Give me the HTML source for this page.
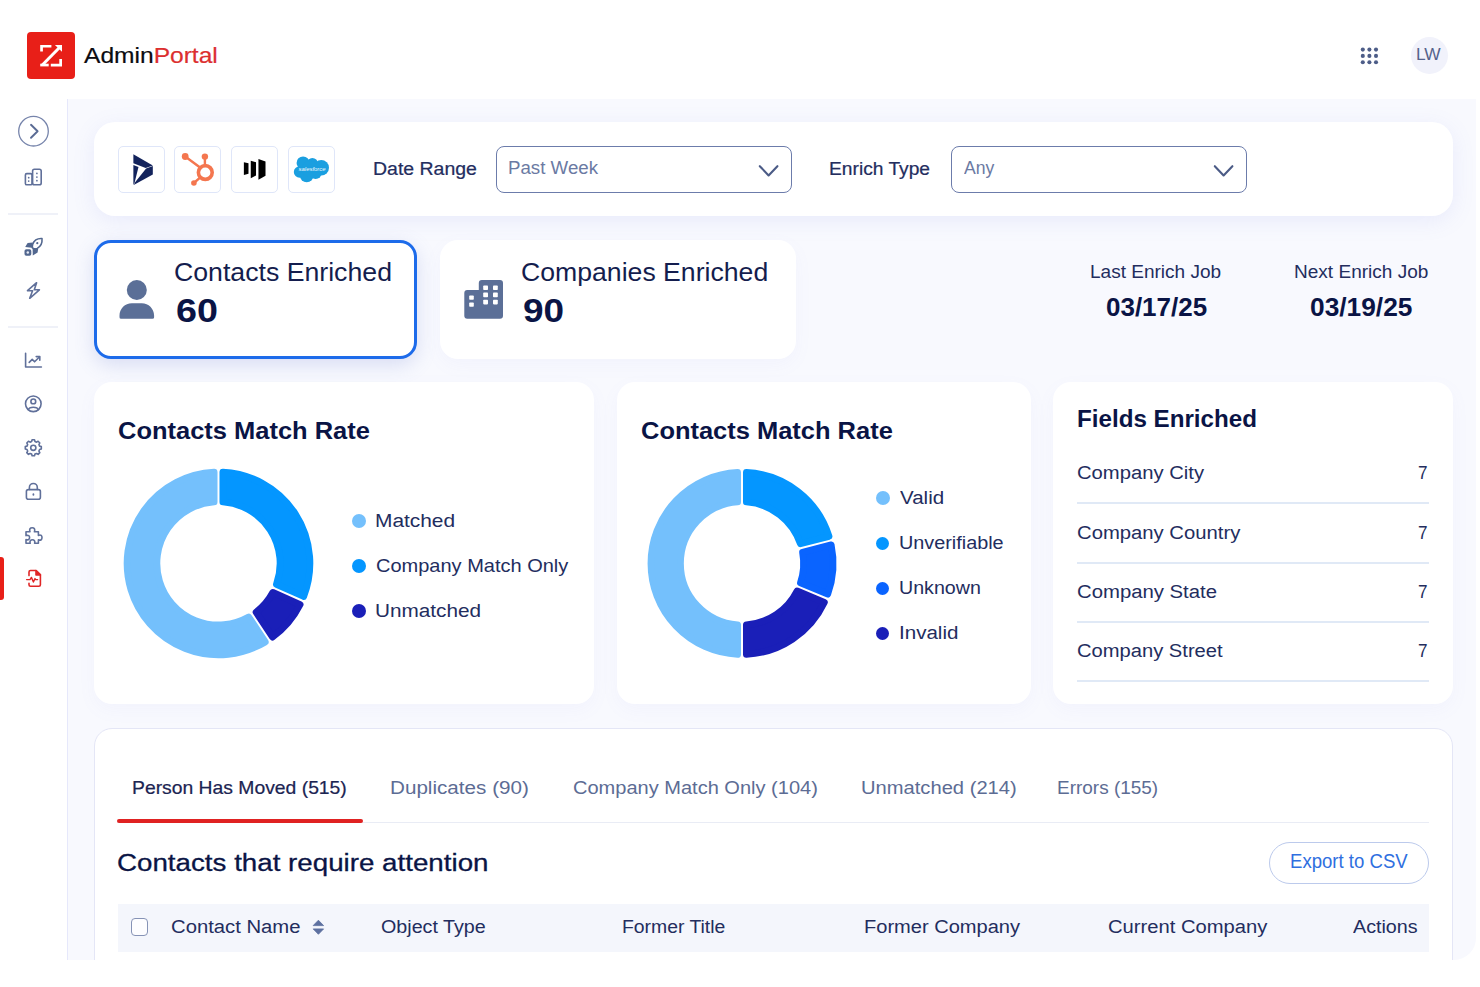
<!DOCTYPE html>
<html>
<head>
<meta charset="utf-8">
<title>AdminPortal</title>
<style>
*{box-sizing:border-box;margin:0;padding:0}
html,body{width:1480px;height:987px;overflow:hidden;background:#fff}
body{font-family:"Liberation Sans",sans-serif;color:#101a4b;position:relative}
.abs{position:absolute}
.t{position:absolute;white-space:nowrap;line-height:1;transform-origin:0 0}
.m{-webkit-text-stroke:0.22px currentColor}
#cra{-webkit-text-stroke:0.3px currentColor}
#t1{-webkit-text-stroke:0.22px currentColor}
#brand{-webkit-text-stroke:0.2px currentColor}
#brand span{-webkit-text-stroke:0.2px #dc2f2f}
.b{font-weight:bold}
#content{left:67px;top:99px;width:1409px;height:861px;background:#f8f9fe;border-left:1.5px solid #e6e8fb;border-bottom-right-radius:22px}
.card{position:absolute;background:#fff;border-radius:18px;box-shadow:0 6px 18px rgba(130,145,230,.05)}
#logo{left:27.3px;top:32.2px;width:47.4px;height:47.1px;background:#e81f18;border-radius:4px}
.sep{position:absolute;left:8px;width:50px;height:1.5px;background:#eff1f8}
.ibox{position:absolute;top:146px;width:47px;height:47px;background:#fff;border:1px solid #dfe6f9;border-radius:5px}
.sel{position:absolute;top:146px;height:47px;background:#fff;border:1.6px solid #6c7cab;border-radius:8px}
.dot{position:absolute;border-radius:50%}
.hl{position:absolute;left:1077px;width:352px;height:2px;background:#e0e9f6}
svg{position:absolute;overflow:visible}
</style>
</head>
<body>
<!-- HEADER -->
<div id="logo" class="abs"></div>
<div class="abs" style="left:1411px;top:37.3px;width:37px;height:37px;border-radius:50%;background:#f1f2fb"></div>

<!-- CONTENT BG -->
<div id="content" class="abs"></div>

<!-- SIDEBAR -->
<div class="sep" style="top:213px"></div>
<div class="sep" style="top:326px"></div>
<div class="abs" style="left:0;top:557px;width:3.5px;height:43px;background:#e81f18;border-radius:0 3px 3px 0"></div>

<!-- FILTER CARD -->
<div class="card" style="left:93.8px;top:122px;width:1359.4px;height:94.2px;border-radius:21px;box-shadow:0 5px 22px rgba(120,130,230,.12)"></div>
<div class="ibox" style="left:117.6px"></div>
<div class="ibox" style="left:174.2px"></div>
<div class="ibox" style="left:231.2px"></div>
<div class="ibox" style="left:288px"></div>
<div class="sel" style="left:496px;width:296px"></div>
<div class="sel" style="left:951px;width:296px"></div>

<!-- STAT CARDS -->
<div class="card" style="left:94px;top:240px;width:323px;height:119px;border:3px solid #1d6bea;border-radius:17px;box-shadow:0 6px 20px rgba(90,110,200,.20)"></div>
<div class="card" style="left:440px;top:240px;width:355.5px;height:118.8px;border-radius:18px"></div>

<!-- CHART CARDS -->
<div class="card" style="left:93.8px;top:381.7px;width:500.3px;height:322.5px"></div>
<div class="card" style="left:617.2px;top:381.7px;width:413.5px;height:322.5px"></div>
<div class="card" style="left:1052.6px;top:381.7px;width:400.6px;height:322.5px"></div>

<!-- legend dots -->
<div class="dot" style="left:352px;top:514px;width:14.4px;height:14.4px;background:#74c0fc"></div>
<div class="dot" style="left:352px;top:558.6px;width:14.4px;height:14.4px;background:#0496ff"></div>
<div class="dot" style="left:352px;top:603.8px;width:14.4px;height:14.4px;background:#1a1fb8"></div>
<div class="dot" style="left:875.5px;top:491.2px;width:14px;height:14px;background:#74c0fc"></div>
<div class="dot" style="left:876px;top:537px;width:13px;height:13px;background:#0496ff"></div>
<div class="dot" style="left:876px;top:582px;width:13px;height:13px;background:#0a64ff"></div>
<div class="dot" style="left:876px;top:627px;width:13px;height:13px;background:#1a1fb8"></div>

<!-- fields lines -->
<div class="hl" style="top:502.2px"></div>
<div class="hl" style="top:561.5px"></div>
<div class="hl" style="top:620.7px"></div>
<div class="hl" style="top:679.7px"></div>

<!-- TABLE CARD -->
<div class="abs" style="left:94px;top:728px;width:1358.6px;height:260px;background:#fff;border:1px solid #e4e6f6;border-radius:18px"></div>
<div class="abs" style="left:117px;top:821.5px;width:1312px;height:1.5px;background:#e9ecf5"></div>
<div class="abs" style="left:117.4px;top:818.8px;width:246px;height:3.8px;background:#e02222;border-radius:2px"></div>
<div class="abs" style="left:1269px;top:842px;width:160px;height:42px;border:1.5px solid #bccaec;border-radius:21px;background:#fff"></div>
<div class="abs" style="left:117.5px;top:904px;width:1311.5px;height:47.5px;background:#f4f6fc"></div>
<div class="abs" style="left:130.5px;top:918.3px;width:17.8px;height:17.8px;border:1.6px solid #8693b6;border-radius:4px;background:#fdfdff"></div>
<!-- DONUTS -->
<svg style="left:0;top:0" width="1480" height="987" viewBox="0 0 1480 987">
<path d="M222.90,472.11A91.40,91.40 0 0 1 303.69,596.51L276.42,584.37A61.60,61.60 0 0 0 222.90,501.96Z" fill="#0496ff" stroke="#0496ff" stroke-width="6.8" stroke-linejoin="round"/>
<path d="M300.11,604.55A91.40,91.40 0 0 1 272.56,637.10L256.08,612.21A61.60,61.60 0 0 0 272.84,592.41Z" fill="#1a1fb8" stroke="#1a1fb8" stroke-width="6.8" stroke-linejoin="round"/>
<path d="M265.22,641.96A91.40,91.40 0 1 1 214.10,472.11L214.10,501.96A61.60,61.60 0 1 0 248.74,617.06Z" fill="#74c0fc" stroke="#74c0fc" stroke-width="6.8" stroke-linejoin="round"/>
<path d="M746.40,472.41A91.10,91.10 0 0 1 828.99,536.36L800.38,543.76A61.60,61.60 0 0 0 746.40,501.96Z" fill="#0496ff" stroke="#0496ff" stroke-width="6.8" stroke-linejoin="round"/>
<path d="M831.20,544.88A91.10,91.10 0 0 1 827.75,594.16L800.45,582.85A61.60,61.60 0 0 0 802.59,552.28Z" fill="#0a64ff" stroke="#0a64ff" stroke-width="6.8" stroke-linejoin="round"/>
<path d="M824.38,602.29A91.10,91.10 0 0 1 746.40,654.39L746.40,624.84A61.60,61.60 0 0 0 797.08,590.98Z" fill="#1a1fb8" stroke="#1a1fb8" stroke-width="6.8" stroke-linejoin="round"/>
<path d="M737.60,654.39A91.10,91.10 0 0 1 737.60,472.41L737.60,501.96A61.60,61.60 0 0 0 737.60,624.84Z" fill="#74c0fc" stroke="#74c0fc" stroke-width="6.8" stroke-linejoin="round"/>
</svg>
<!-- ICONS -->
<svg style="left:0;top:0" width="1480" height="987" viewBox="0 0 1480 987" fill="none">
<!-- logo Z -->
<g fill="#fff">
<path d="M40.2,44.9H51.4V47.6H42.9V51.4H40.2Z"/>
<path d="M54.9,44.9H62V51.8Z"/>
<path d="M59.4,45.4L61.6,47.6L43.6,65.8L40.8,64.4Z"/>
<path d="M40.2,63.7H48.7V66.4H40.2Z"/>
<path d="M50.8,63.7H59.3V59H62V66.4H50.8Z"/>
</g>
<!-- app grid -->
<g fill="#4d5d88">
<circle cx="1362.8" cy="49.6" r="2.05"/><circle cx="1369.4" cy="49.6" r="2.05"/><circle cx="1376" cy="49.6" r="2.05"/>
<circle cx="1362.8" cy="55.9" r="2.05"/><circle cx="1369.4" cy="55.9" r="2.05"/><circle cx="1376" cy="55.9" r="2.05"/>
<circle cx="1362.8" cy="62.2" r="2.05"/><circle cx="1369.4" cy="62.2" r="2.05"/><circle cx="1376" cy="62.2" r="2.05"/>
</g>
<!-- select chevrons -->
<g stroke="#4b5b86" stroke-width="2.1" stroke-linecap="round" stroke-linejoin="round">
<path d="M759.8,166.2L768.6,175.4L777.4,166.2"/>
<path d="M1214.8,166.2L1223.6,175.4L1232.4,166.2"/>
</g>
<!-- sidebar expand -->
<circle cx="33.5" cy="131.2" r="14.8" stroke="#7684ab" stroke-width="1.3"/>
<path d="M31,124.8L37.6,131.3L31,137.8" stroke="#5a6b94" stroke-width="1.9" stroke-linecap="round" stroke-linejoin="round"/>
<!-- sidebar icons -->
<g stroke="#60709a" stroke-width="1.6" stroke-linecap="round" stroke-linejoin="round">
<!-- buildings -->
<rect x="25.4" y="173.6" width="6.6" height="11.2" rx="1.4"/>
<rect x="32.6" y="169.2" width="8.6" height="15.6" rx="1.8"/>
<path d="M36.9,173.4v.1M36.9,177v.1M36.9,180.6v.1M28.7,177.6v.1M28.7,181v.1" stroke-width="1.7"/>
<!-- lightning -->
<path d="M36.6,282.7L27.5,290.7H32.6L29.7,298.3L39.4,289.8H34.3Z"/>
<!-- chart -->
<path d="M25.6,353.2V367H41.4"/>
<path d="M29.2,362.4L32.2,359.4L34.6,361.8L39.4,357"/>
<path d="M36.2,356.6H39.8V360.2"/>
<!-- user circle -->
<circle cx="33.3" cy="403.8" r="7.8"/>
<circle cx="33.3" cy="401.4" r="2.4"/>
<path d="M28.4,409.6C29.2,406.4 37.4,406.4 38.2,409.6"/>
<!-- lock -->
<rect x="26.4" y="489.6" width="14" height="9.7" rx="2"/>
<path d="M29.4,489.4V487.4A3.95,3.95 0 0 1 37.3,487.4V489.4"/>
<path d="M33.4,494.2v.6" stroke-width="1.8"/>
</g>
<!-- gear -->
<g stroke="#60709a" stroke-width="1.6" stroke-linecap="round" stroke-linejoin="round">
<path d="M31.62,441.52L32.10,439.79L34.50,439.79L34.98,441.52L36.55,442.17L38.12,441.29L39.81,442.98L38.93,444.55L39.58,446.12L41.31,446.60L41.31,449.00L39.58,449.48L38.93,451.05L39.81,452.62L38.12,454.31L36.55,453.43L34.98,454.08L34.50,455.81L32.10,455.81L31.62,454.08L30.05,453.43L28.48,454.31L26.79,452.62L27.67,451.05L27.02,449.48L25.29,449.00L25.29,446.60L27.02,446.12L27.67,444.55L26.79,442.98L28.48,441.29L30.05,442.17Z"/>
<circle cx="33.3" cy="447.8" r="2.6"/>
<!-- puzzle -->
<path d="M26,531.8H30C29,529 30.2,527.7 32.2,527.7C34.2,527.7 35.4,529 34.4,531.8H38.4V535.4C41,534.4 42,535.8 42,537.6C42,539.4 41,540.8 38.4,539.8V543.3H34.6C35.4,541 34.2,539.8 32.4,539.8C30.6,539.8 29.4,541 30.2,543.3H26V539.6C28.4,540.4 29.6,539.2 29.6,537.6C29.6,536 28.4,534.8 26,535.6Z"/>
</g>
<!-- rocket -->
<path d="M42,238.6C37.6,238.3 34.2,240.2 32.6,244.4L32.2,247.6L34.6,249.4L37.2,248.4C40.8,246.4 42.4,243 42,238.6Z" fill="#fff" stroke="#52678f" stroke-width="1.6" stroke-linejoin="round"/>
<g fill="#52678f">
<path d="M32.8,242.6L27.6,243L25.2,247L31.8,247.8Z"/>
<path d="M32.6,247.8L38.2,248.4L37.6,252.6L32.8,255.6Z"/>
<path d="M26.4,249.2H29.6A1.7,1.7 0 0 1 31.3,250.9V254.1A1.7,1.7 0 0 1 29.6,255.8H26.2A1.7,1.7 0 0 1 24.5,254.1V251.1A1.9,1.9 0 0 1 26.4,249.2Z"/>
<circle cx="37.3" cy="243.2" r="1.1"/>
</g>
<circle cx="27.8" cy="252.6" r="1.25" fill="#e6eaf4"/>
<!-- file pulse (active, red) -->
<g stroke="#e02626" stroke-width="1.6" stroke-linecap="round" stroke-linejoin="round">
<path d="M29,575.6V572A1.5,1.5 0 0 1 30.5,570.5H36L40.4,574.9V584.8A1.5,1.5 0 0 1 38.9,586.3H30.5A1.5,1.5 0 0 1 29,584.8V583.2"/>
<path d="M36,570.5V574.9H40.4Z" fill="#e02626"/>
<path d="M26.6,579.6H30L31.4,577.4L33.4,582L35,578.6L35.8,579.6H37.6" stroke-width="1.4"/>
</g>
<!-- person icon -->
<g fill="#5b6f97">
<circle cx="136.8" cy="290" r="10"/>
<path d="M119.5,317.2V315.6C119.5,308.8 125,303.3 131.8,303.3H141.8C148.6,303.3 154.1,308.8 154.1,315.6V317.2A1.6,1.6 0 0 1 152.5,318.8H121.1A1.6,1.6 0 0 1 119.5,317.2Z"/>
<!-- building icon -->
<path d="M464.3,293A3,3 0 0 1 467.3,290H478.8V283A3,3 0 0 1 481.8,280H500A3,3 0 0 1 503,283V315.8A3,3 0 0 1 500,318.8H467.3A3,3 0 0 1 464.3,315.8Z"/>
</g>
<g fill="#fff">
<rect x="483.2" y="285.4" width="4.8" height="4.6" rx=".8"/><rect x="493" y="285.4" width="4.8" height="4.6" rx=".8"/>
<rect x="483.2" y="292.6" width="4.8" height="4.6" rx=".8"/><rect x="493" y="292.6" width="4.8" height="4.6" rx=".8"/>
<rect x="483.2" y="299.8" width="4.8" height="4.6" rx=".8"/><rect x="493" y="299.8" width="4.8" height="4.6" rx=".8"/>
<rect x="469.2" y="295.4" width="4.6" height="4.4" rx=".8"/>
<rect x="469.2" y="302.4" width="4.6" height="4.4" rx=".8"/>
</g>
<!-- sort icon -->
<path d="M313.2,925.6H323.6L318.4,920.2Z M313.2,928.9H323.6L318.4,934.3Z" fill="#5d70a0" stroke="#5d70a0" stroke-width=".8" stroke-linejoin="round"/>
<!-- Dynamics -->
<g fill="#13235c">
<path d="M133.35,154.2L152.8,165.4L145.7,168L133.35,163.3Z"/>
<path d="M133.35,164.9L138.5,166.9L134.7,182.2L133.35,184.9Z"/>
<path d="M146.1,168.5L152.8,166.1V174.5L133.7,184.9L135.1,182.2Z"/>
</g>
<!-- HubSpot -->
<g stroke="#f4764f" fill="none" stroke-linecap="round">
<circle cx="205.3" cy="172.5" r="6.9" stroke-width="3.6"/>
<path d="M204.9,156.6V165" stroke-width="2.4"/>
<path d="M185.2,156.5L199.4,167" stroke-width="2.4"/>
<path d="M193.9,183L200,177.6" stroke-width="2.4"/>
</g>
<g fill="#f4764f"><circle cx="204.9" cy="156.6" r="3.2"/><circle cx="185.2" cy="156.5" r="3.4"/><circle cx="193.9" cy="183" r="2.8"/></g>
<!-- Marketo -->
<g fill="#000">
<path d="M243.87,162.16L248.49,163.3V173.68L243.87,174.9Z"/>
<path d="M250.76,160.7L256.03,162.16V175.46L250.76,178.14Z"/>
<path d="M258.46,158.92L265.51,161.51V175.7L258.46,179.76Z"/>
</g>
<!-- Salesforce -->
<g fill="#1a9fe0">
<circle cx="303.06" cy="162.9" r="6.5"/><circle cx="312.4" cy="163.4" r="5.5"/><circle cx="321.3" cy="167.8" r="7.7"/>
<circle cx="299.6" cy="172" r="5.8"/><circle cx="306.7" cy="175.3" r="6.9"/><circle cx="315.6" cy="172.9" r="6.1"/>
<circle cx="309.95" cy="168.8" r="8.1"/>
</g>
<text x="298.6" y="170.6" font-family="Liberation Sans, sans-serif" font-size="5.6" font-style="italic" fill="#f0f9fe" textLength="27" lengthAdjust="spacingAndGlyphs">salesforce</text>
</svg>

<!-- TEXT -->
<div class="t m" id="brand" style="left:83.60px;top:44px;font-size:22.70px;color:#0b0b10;transform:scaleX(1.0828)">Admin<span style="color:#dc2f2f">Portal</span></div>
<div class="t" id="lw" style="left:1416.02px;top:46px;font-size:17.13px;color:#55638c;transform:scaleX(1.0129)">LW</div>
<div class="t m" id="dr" style="left:372.67px;top:160px;font-size:18.12px;color:#232d5e;transform:scaleX(1.0751)">Date Range</div>
<div class="t" id="pw" style="left:507.72px;top:159px;font-size:18.12px;color:#6b7aa3;transform:scaleX(1.0324)">Past Week</div>
<div class="t m" id="et" style="left:829.44px;top:160px;font-size:18.12px;color:#232d5e;transform:scaleX(1.0603)">Enrich Type</div>
<div class="t" id="any" style="left:963.75px;top:159px;font-size:18.12px;color:#6b7aa3;transform:scaleX(0.9720)">Any</div>
<div class="t" id="ce" style="left:174.45px;top:260px;font-size:25.36px;color:#141d4e;transform:scaleX(1.0519)">Contacts Enriched</div>
<div class="t b" id="n60" style="left:175.59px;top:295px;font-size:32.50px;color:#0a1445;transform:scaleX(1.1592)">60</div>
<div class="t" id="coe" style="left:521.45px;top:260px;font-size:25.36px;color:#141d4e;transform:scaleX(1.0501)">Companies Enriched</div>
<div class="t b" id="n90" style="left:522.61px;top:295px;font-size:32.50px;color:#0a1445;transform:scaleX(1.1372)">90</div>
<div class="t" id="lej" style="left:1090.20px;top:263px;font-size:18.12px;color:#232d5e;transform:scaleX(1.0505)">Last Enrich Job</div>
<div class="t b" id="d1" style="left:1105.75px;top:295px;font-size:25.00px;color:#0a1445;transform:scaleX(1.0394)">03/17/25</div>
<div class="t" id="nej" style="left:1293.95px;top:263px;font-size:18.12px;color:#232d5e;transform:scaleX(1.0512)">Next Enrich Job</div>
<div class="t b" id="d2" style="left:1309.50px;top:295px;font-size:25.00px;color:#0a1445;transform:scaleX(1.0522)">03/19/25</div>
<div class="t b" id="cm1" style="left:118.00px;top:420px;font-size:23.21px;color:#0a1445;transform:scaleX(1.0976)">Contacts Match Rate</div>
<div class="t b" id="cm2" style="left:641.40px;top:420px;font-size:23.21px;color:#0a1445;transform:scaleX(1.0972)">Contacts Match Rate</div>
<div class="t b" id="fe" style="left:1076.70px;top:407px;font-size:24.14px;color:#0a1445;transform:scaleX(1.0017)">Fields Enriched</div>
<div class="t" id="l1" style="left:375.23px;top:513px;font-size:17.83px;color:#232d5e;transform:scaleX(1.1715)">Matched</div>
<div class="t" id="l2" style="left:376.40px;top:558px;font-size:17.97px;color:#232d5e;transform:scaleX(1.1141)">Company Match Only</div>
<div class="t" id="l3" style="left:375.24px;top:603px;font-size:17.83px;color:#232d5e;transform:scaleX(1.1639)">Unmatched</div>
<div class="t" id="v1" style="left:900.20px;top:490px;font-size:17.54px;color:#232d5e;transform:scaleX(1.1705)">Valid</div>
<div class="t" id="v2" style="left:898.88px;top:535px;font-size:17.68px;color:#232d5e;transform:scaleX(1.1213)">Unverifiable</div>
<div class="t" id="v3" style="left:898.89px;top:580px;font-size:17.68px;color:#232d5e;transform:scaleX(1.1107)">Unknown</div>
<div class="t" id="v4" style="left:898.85px;top:625px;font-size:17.83px;color:#232d5e;transform:scaleX(1.1536)">Invalid</div>
<div class="t" id="f1" style="left:1076.70px;top:464px;font-size:18.41px;color:#232d5e;transform:scaleX(1.0989)">Company City</div>
<div class="t" id="f2" style="left:1076.70px;top:524px;font-size:18.41px;color:#232d5e;transform:scaleX(1.1006)">Company Country</div>
<div class="t" id="f3" style="left:1076.70px;top:583px;font-size:18.41px;color:#232d5e;transform:scaleX(1.1033)">Company State</div>
<div class="t" id="f4" style="left:1076.70px;top:642px;font-size:18.41px;color:#232d5e;transform:scaleX(1.0951)">Company Street</div>
<div class="t" id="s1" style="left:1418.20px;top:464px;font-size:18.41px;color:#232d5e;transform:scaleX(0.9300)">7</div>
<div class="t" id="s2" style="left:1418.20px;top:524px;font-size:18.41px;color:#232d5e;transform:scaleX(0.9300)">7</div>
<div class="t" id="s3" style="left:1418.20px;top:583px;font-size:18.41px;color:#232d5e;transform:scaleX(0.9300)">7</div>
<div class="t" id="s4" style="left:1418.20px;top:642px;font-size:18.41px;color:#232d5e;transform:scaleX(0.9300)">7</div>
<div class="t m" id="t1" style="left:132.07px;top:779px;font-size:18.84px;color:#1b2452;transform:scaleX(1.0263)">Person Has Moved (515)</div>
<div class="t" id="t2" style="left:389.50px;top:779px;font-size:18.70px;color:#5c6c94;transform:scaleX(1.1048)">Duplicates (90)</div>
<div class="t" id="t3" style="left:573.20px;top:779px;font-size:18.70px;color:#5c6c94;transform:scaleX(1.0715)">Company Match Only (104)</div>
<div class="t" id="t4" style="left:860.52px;top:779px;font-size:18.70px;color:#5c6c94;transform:scaleX(1.0785)">Unmatched (214)</div>
<div class="t" id="t5" style="left:1056.89px;top:779px;font-size:18.70px;color:#5c6c94;transform:scaleX(1.0146)">Errors (155)</div>
<div class="t m" id="cra" style="left:116.77px;top:851px;font-size:24.64px;color:#0a1445;transform:scaleX(1.1261)">Contacts that require attention</div>
<div class="t" id="exp" style="left:1289.64px;top:852px;font-size:19.42px;color:#2f6fe0;transform:scaleX(0.9573)">Export to CSV</div>
<div class="t" id="h1" style="left:171.10px;top:918px;font-size:18.41px;color:#232d5e;transform:scaleX(1.1004)">Contact Name</div>
<div class="t" id="h2" style="left:381.10px;top:918px;font-size:18.41px;color:#232d5e;transform:scaleX(1.0704)">Object Type</div>
<div class="t" id="h3" style="left:622.35px;top:918px;font-size:18.41px;color:#232d5e;transform:scaleX(1.0525)">Former Title</div>
<div class="t" id="h4" style="left:864.01px;top:918px;font-size:18.41px;color:#232d5e;transform:scaleX(1.0897)">Former Company</div>
<div class="t" id="h5" style="left:1108.10px;top:918px;font-size:18.41px;color:#232d5e;transform:scaleX(1.0963)">Current Company</div>
<div class="t" id="h6" style="left:1352.90px;top:918px;font-size:18.41px;color:#232d5e;transform:scaleX(1.0713)">Actions</div>
<div class="abs" style="left:0;top:960px;width:1480px;height:27px;background:#fff"></div>
</body>
</html>
